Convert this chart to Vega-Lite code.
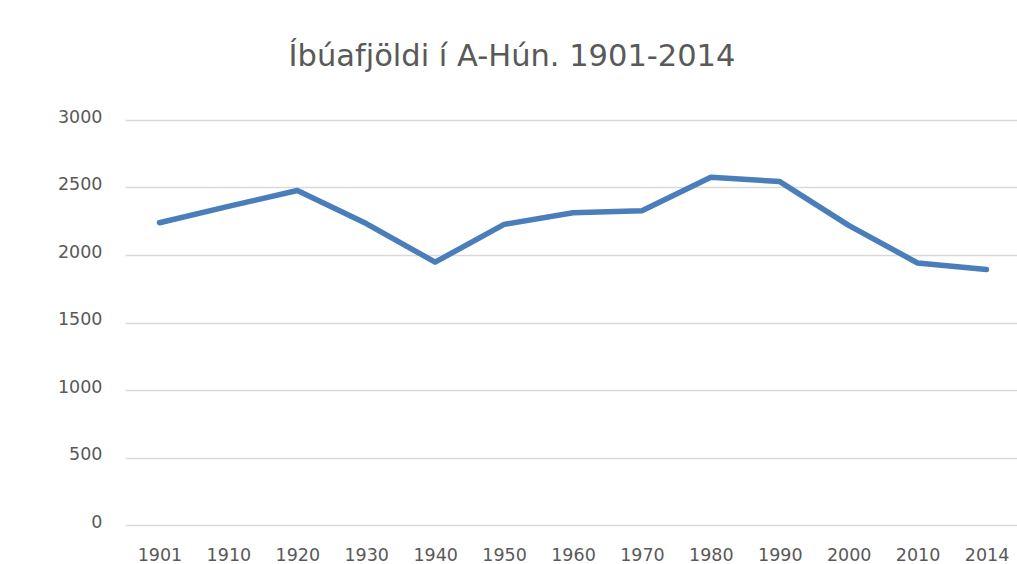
{
  "$schema": "https://vega.github.io/schema/vega-lite/v6.json",
  "autosize": "none",
  "width": 896,
  "height": 405,
  "padding": {"left": 125, "top": 120, "right": 0, "bottom": 39},
  "background": "white",
  "title": {
    "text": "Íbúafjöldi í A-Hún. 1901-2014",
    "font": "DejaVu Sans",
    "fontSize": 30.5,
    "fontWeight": "normal",
    "color": "#595959",
    "anchor": "middle",
    "frame": "group",
    "dx": -61,
    "offset": 36
  },
  "data": {
    "values": [
      {"year": "1901", "pop": 2239},
      {"year": "1910", "pop": 2360},
      {"year": "1920", "pop": 2478},
      {"year": "1930", "pop": 2233},
      {"year": "1940", "pop": 1947},
      {"year": "1950", "pop": 2227},
      {"year": "1960", "pop": 2313},
      {"year": "1970", "pop": 2328},
      {"year": "1980", "pop": 2576},
      {"year": "1990", "pop": 2544},
      {"year": "2000", "pop": 2219},
      {"year": "2010", "pop": 1941},
      {"year": "2014", "pop": 1892}
    ]
  },
  "mark": {"type": "line", "color": "#4A7EBB", "strokeWidth": 5.5, "strokeCap": "round", "strokeJoin": "round"},
  "encoding": {
    "x": {
      "field": "year",
      "type": "ordinal",
      "scale": {"paddingInner": 0, "paddingOuter": 0.5},
      "axis": {
        "title": null,
        "labelAngle": 0,
        "domain": false,
        "ticks": false,
        "grid": false,
        "labelFont": "DejaVu Sans",
        "labelFontSize": 17.5,
        "labelColor": "#595959",
        "labelPadding": 21
      }
    },
    "y": {
      "field": "pop",
      "type": "quantitative",
      "scale": {"domain": [0, 3000]},
      "axis": {
        "title": null,
        "values": [0, 500, 1000, 1500, 2000, 2500, 3000],
        "format": "d",
        "domain": false,
        "ticks": false,
        "grid": true,
        "gridColor": "#D9D9D9",
        "gridWidth": 1.5,
        "labelFont": "DejaVu Sans",
        "labelFontSize": 17.5,
        "labelColor": "#595959",
        "labelPadding": 23,
        "labelBaseline": "alphabetic",
        "labelOffset": 2
      }
    }
  },
  "config": {"view": {"stroke": null}}
}
